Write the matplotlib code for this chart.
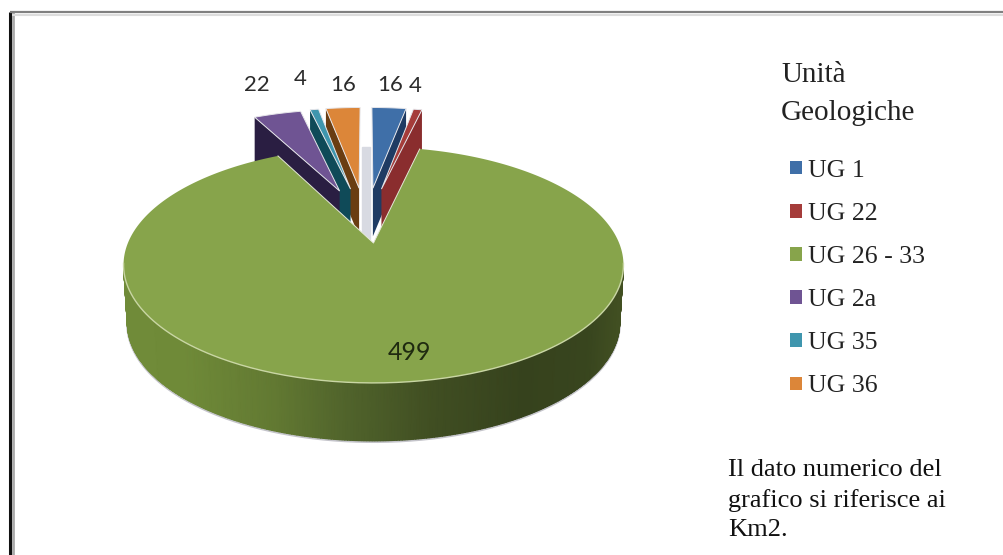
import numpy as np
import matplotlib
matplotlib.use("Agg")
import matplotlib.pyplot as plt
from matplotlib.colors import LinearSegmentedColormap
from matplotlib.patches import Patch

# data
categories = ["UG 1", "UG 22", "UG 26 - 33", "UG 2a", "UG 35", "UG 36"]
values = [16, 4, 499, 22, 4, 16]
value_labels = ["16", "4", "499", "22", "4", "16"]
colors = ["#3f6fa8", "#a53c3a", "#87a44b", "#6f5493", "#3f96ae", "#dc8639"]
side_colors = ["#1f3b63", "#8a2d2e", "#4c5f2a", "#2a1e42", "#0f4a58", "#6a3d12"]
legend_title = "Unità\nGeologiche"
note = "Il dato numerico del\ngrafico si riferisce ai\nKm2."

# perspective of the pie, pixel units
RX, RY, TILT = 245.6, 113.9, 0.186
DEPTH = 58
BIG_CENTER = (373.5, 243)
SMALL_CENTER = (366, 243)
EXPLODE = 0.53
EXPLODE_X = 0.65
SMALL_DEPTH = 48


def project(t, r=1.0, bis=None, center=BIG_CENTER):
    # t in degrees, clockwise from the top of the pie
    t = np.radians(t)
    gx = r * np.sin(t)
    gy = r * np.cos(t)
    if bis is not None:
        b = np.radians(bis)
        gx = gx + EXPLODE * EXPLODE_X * np.sin(b)
        gy = gy + EXPLODE * np.cos(b)
    k = 1 + TILT * gy
    return center[0] + RX * gx / k, center[1] - RY * gy / k


fig = plt.figure(figsize=(10.04, 5.55), dpi=100)
ax = fig.add_axes([0, 0, 1, 1])
ax.set_xlim(0, 1004)
ax.set_ylim(555, 0)
ax.axis("off")

# picture frame
ax.plot([10, 10], [12, 555], color="#111111", lw=2.2, solid_capstyle="butt")
ax.plot([13, 13], [12, 555], color="#aaaaaa", lw=2, solid_capstyle="butt")
ax.plot([10, 1004], [12, 12], color="#808080", lw=1.6, solid_capstyle="butt")
ax.plot([12, 1004], [14.5, 14.5], color="#dddddd", lw=1.5, solid_capstyle="butt")

edges = np.concatenate([[0], np.cumsum(values)]) / sum(values) * 360
big = int(np.argmax(values))

# light inner wall seen through the gap
x0, y0 = project(0, 1)
x1, y1 = project(0, 0)
ax.fill([x0 - 11, x0 - 3, x0 - 3, x0 - 11], [y0, y0, y1 - 4, y1 - 4],
        color="#d8dae2", zorder=1)

# small slices, each top hides the side of the one nearer the gap
order = [5, 4, 3, 0, 1]
for i in order:
    a, b = edges[i], edges[i + 1]
    bis = (a + b) / 2
    ts = np.linspace(a, b, 12)
    ax_, ay_ = project(0, 0, bis, SMALL_CENTER)
    xs, ys = project(ts, 1, bis, SMALL_CENTER)
    if bis > 180:
        ex, ey = xs[0], ys[0]
    else:
        ex, ey = xs[-1], ys[-1]
    ax.fill([ax_, ex, ex, ax_], [ay_, ey, ey + SMALL_DEPTH, ay_ + SMALL_DEPTH],
            color=side_colors[i], lw=0, zorder=2)
    ax.fill(np.r_[ax_, xs], np.r_[ay_, ys], facecolor=colors[i],
            edgecolor="#e6e6ea", lw=0.7, zorder=2)

# side of the big slice, shaded along the rim
shade = LinearSegmentedColormap.from_list("side", [
    (0.0, "#708b39"), (0.12, "#6f8a38"), (0.3, "#627932"), (0.45, "#50632b"),
    (0.62, "#404e22"), (0.8, "#36421d"), (0.93, "#38451e"), (1.0, "#425022")])
ts = np.linspace(101, 259, 300)
xs, ys = project(ts)
xb = BIG_CENTER[0] + (xs - BIG_CENTER[0]) * 0.985
yb = ys + DEPTH
ax.plot(xb, yb + 1, color="#c4c4ca", lw=1.6, zorder=2)
f = (xs - xs.min()) / (xs.max() - xs.min())
ax.pcolormesh(np.vstack([xs, xb]), np.vstack([ys, yb]), np.vstack([f, f]),
              cmap=shade, vmin=0, vmax=1, shading="gouraud", zorder=3)

# top of the big slice
ts = np.linspace(edges[big], edges[big + 1], 400)
xs, ys = project(ts)
cx, cy = project(0, 0)
ax.fill(np.r_[cx, xs], np.r_[cy, ys], facecolor=colors[big], edgecolor="none", zorder=4)
ax.plot(np.r_[xs[-1], cx, xs[0]], np.r_[ys[-1], cy, ys[0]], color="#e4e8d8", lw=0.7, zorder=4)
front = np.linspace(100, 260, 200)
fx, fy = project(front)
ax.plot(fx, fy, color="#c9d6a4", lw=1.0, zorder=5)

# value labels
label_font = ["Lato", "DejaVu Sans"]
label_pos = {0: (390, 85), 1: (415, 86), 2: (409, 352), 3: (257, 85), 4: (300, 79), 5: (343, 85)}
for i, txt in enumerate(value_labels):
    px, py = label_pos[i]
    ax.text(px, py, txt, family=label_font, fontsize=18 if i == big else 16,
            color="#1f2a10" if i == big else "#2c2c2c",
            ha="center", va="center", zorder=6)

# legend
serif = ["Liberation Serif", "DejaVu Serif"]
ax.text(781, 94, legend_title, family=serif, fontsize=21, color="#222222",
        va="center", ha="left", linespacing=1.6)
handles = [Patch(facecolor=c, edgecolor="none") for c in colors]
ax.legend(handles, categories, loc="upper left", bbox_to_anchor=(790, 160),
          bbox_transform=ax.transData, frameon=False, borderpad=0, borderaxespad=0,
          prop={"family": serif, "size": 18.5}, labelcolor="#222222",
          handlelength=0.47, handleheight=0.42, handletextpad=0.25, labelspacing=0.82)

ax.text(728, 500, note, family=serif, fontsize=19, color="#111111",
        va="center", ha="left", linespacing=1.42)

fig.savefig("out.png", dpi=100)
